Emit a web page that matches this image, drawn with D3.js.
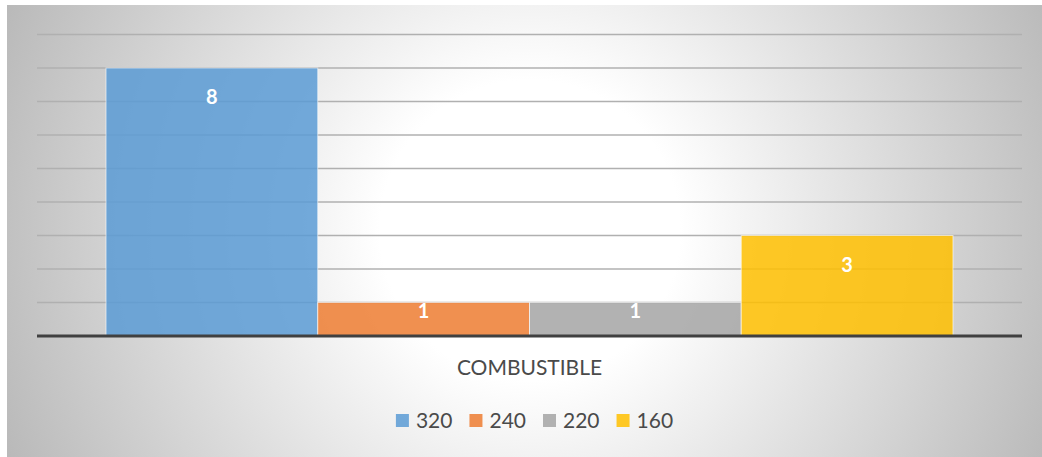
<!DOCTYPE html>
<html>
<head>
<meta charset="utf-8">
<script src="https://cdn.jsdelivr.net/npm/d3@7"></script>
<style>
  html, body { margin: 0; padding: 0; background: #fff; }
  svg { display: block; font-family: Lato, "Open Sans", sans-serif; }
</style>
</head>
<body>
<svg id="chart" width="1042" height="457"></svg>
<script>
// data
const categories = ["COMBUSTIBLE"];
const seriesNames = ["320", "240", "220", "160"];
const seriesValues = [8, 1, 1, 3];
const seriesColors = ["#5B9BD5", "#ED7D31", "#A5A5A5", "#FFC000"];
const yTicks = [1, 2, 3, 4, 5, 6, 7, 8, 9];

const svg = d3.select("#chart");

// chart area background (radial, white in the middle)
const defs = svg.append("defs");
const grad = defs.append("radialGradient")
  .attr("id", "bg")
  .attr("gradientUnits", "userSpaceOnUse")
  .attr("cx", 530).attr("cy", 230).attr("r", 600);
grad.append("stop").attr("offset", 0).attr("stop-color", "#ffffff");
grad.append("stop").attr("offset", 0.25).attr("stop-color", "#ffffff");
grad.append("stop").attr("offset", 1).attr("stop-color", "#b4b4b4");

svg.append("rect")
  .attr("x", 7).attr("y", 5)
  .attr("width", 1035).attr("height", 452)
  .attr("fill", "url(#bg)");

const plot = { left: 37, right: 1022, top: 34.5, bottom: 336 };

const y = d3.scaleLinear()
  .domain([0, 9])
  .range([plot.bottom, plot.top]);

const x0 = d3.scaleBand()
  .domain(categories)
  .range([plot.left, plot.right])
  .paddingOuter(0.0815)
  .paddingInner(0);

const x1 = d3.scaleBand()
  .domain(seriesNames)
  .range([0, x0.bandwidth()]);

// gridlines
svg.append("g")
  .selectAll("line")
  .data(yTicks)
  .enter()
  .append("line")
  .attr("x1", plot.left)
  .attr("x2", plot.right)
  .attr("y1", d => y(d))
  .attr("y2", d => y(d))
  .attr("stroke", "#b0b0b0")
  .attr("stroke-width", 1.3);

// bars
const barG = svg.append("g")
  .attr("transform", `translate(${x0(categories[0])},0)`);

barG.selectAll("rect")
  .data(seriesValues)
  .enter()
  .append("rect")
  .attr("x", (d, i) => x1(seriesNames[i]))
  .attr("y", d => y(d))
  .attr("width", x1.bandwidth())
  .attr("height", d => y(0) - y(d))
  .attr("fill", (d, i) => seriesColors[i])
  .attr("fill-opacity", 0.85)
  .attr("stroke", "#ffffff")
  .attr("stroke-opacity", 0.6)
  .attr("stroke-width", 1);

// data labels (inside end, kept inside short bars)
barG.selectAll("text")
  .data(seriesValues)
  .enter()
  .append("text")
  .attr("x", (d, i) => x1(seriesNames[i]) + x1.bandwidth() / 2)
  .attr("y", d => Math.min(y(d) + 36, y(0) - 18))
  .attr("text-anchor", "middle")
  .attr("fill", "#ffffff")
  .attr("font-weight", "bold")
  .attr("font-size", 20)
  .text(d => d);

// category axis line
svg.append("line")
  .attr("x1", plot.left)
  .attr("x2", plot.right)
  .attr("y1", y(0))
  .attr("y2", y(0))
  .attr("stroke", "#404040")
  .attr("stroke-width", 3);

// category label
svg.append("g")
  .selectAll("text")
  .data(categories)
  .enter()
  .append("text")
  .attr("x", d => x0(d) + x0.bandwidth() / 2)
  .attr("y", 375)
  .attr("text-anchor", "middle")
  .attr("fill", "#4a4a4a")
  .attr("font-size", 21)
  .text(d => d);

// legend
const legend = svg.append("g");
const items = legend.selectAll("g")
  .data(seriesNames)
  .enter()
  .append("g");

items.append("rect")
  .attr("width", 13)
  .attr("height", 13)
  .attr("y", 414)
  .attr("fill", (d, i) => seriesColors[i])
  .attr("fill-opacity", 0.85);

items.append("text")
  .attr("x", 20)
  .attr("y", 428)
  .attr("fill", "#4a4a4a")
  .attr("font-size", 21)
  .text(d => d);

// place legend items side by side, centred
let offset = 0;
const widths = [];
items.each(function() {
  const w = 20 + d3.select(this).select("text").node().getComputedTextLength();
  widths.push(w);
});
const gap = 17;
const total = d3.sum(widths) + gap * (widths.length - 1);
const start = 534.5 - total / 2;
items.attr("transform", (d, i) => {
  const tx = start + offset;
  offset += widths[i] + gap;
  return `translate(${tx},0)`;
});
</script>
</body>
</html>
